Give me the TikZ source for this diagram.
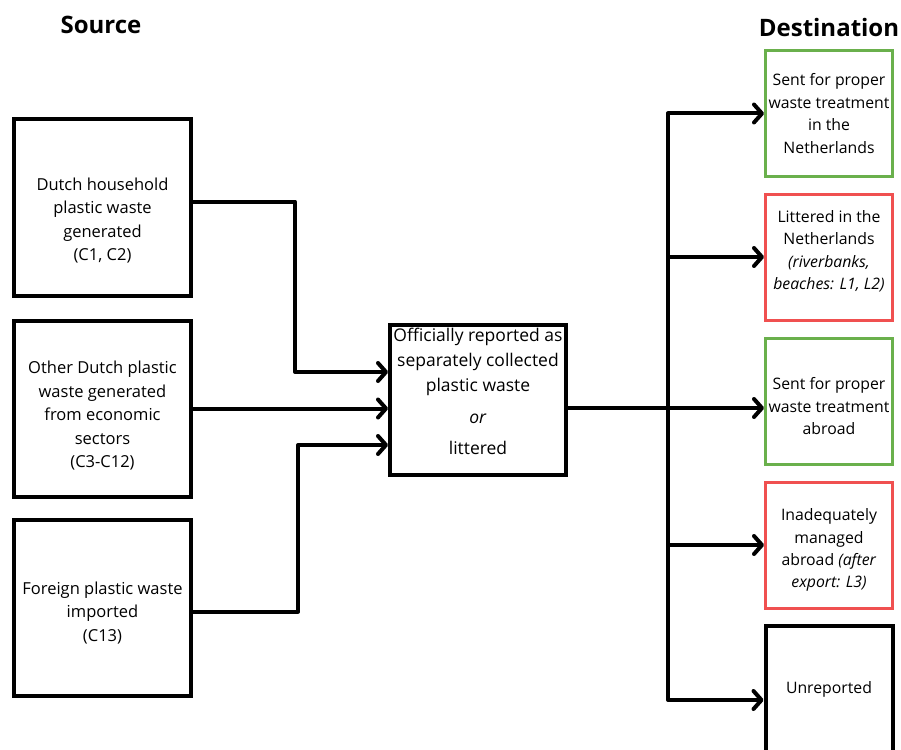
\documentclass[tikz,border=0pt]{standalone}
\usepackage{fontspec}
\setmainfont{Open Sans}
\usepackage{xcolor}
\usepackage{tikz}
\usetikzlibrary{arrows.meta}

\definecolor{okgreen}{HTML}{6AB04C}
\definecolor{badred}{HTML}{F05050}

\tikzset{
 box/.style={draw, line width=4pt, align=center, inner sep=0pt},
 srcbox/.style={box, minimum width=177pt, minimum height=176pt,
  font=\fontsize{16.5pt}{23.5pt}\selectfont},
 dstbox/.style={box, line width=3pt, minimum width=127pt, minimum height=126pt,
  font=\fontsize{15.8pt}{22.4pt}\selectfont},
 title/.style={font=\fontsize{24pt}{28pt}\selectfont\bfseries},
 flow/.style={line width=4pt, line join=round,
  -{Straight Barb[length=8pt,width=18pt,line cap=round,line join=round]}}
}

\begin{document}
\begin{tikzpicture}[x=1pt,y=-1pt]
 \clip (0,0) rectangle (901,749);
 \def\sx{102.5} \def\dx{829}

 %titles
 \node[title] (src) at (101,25) {Source};
 \node[title] (dst) at (829,28) {Destination};

 %sources
 \node[srcbox, minimum height=177pt] (A) at (\sx,207.5) {\\[15pt]Dutch household\\ plastic waste\\ generated\\ (C1, C2)};
 \node[srcbox] (B) at (\sx,408.5) {\\[4pt]Other Dutch plastic\\ waste generated\\ from economic\\ sectors\\ (C3-C12)};
 \node[srcbox] (C) at (\sx,607.5) {\\Foreign plastic waste\\ imported\\ (C13)};

 %middle
 \node[box, minimum width=176pt, minimum height=150pt, font=\fontsize{17.5pt}{25pt}\selectfont] (M) at (478,400)
  {Officially reported as\\ separately collected\\ plastic waste\\[7pt] \textit{or}\\[6pt] littered\\[-7pt]\mbox{}};

 %destinations
 \node[dstbox, draw=okgreen] (D1) at (\dx,113.5) {Sent for proper\\ waste treatment\\ in the\\ Netherlands};
 \node[dstbox, draw=badred] (D2) at (\dx,257) {Littered in the\\ Netherlands\\ \textit{(riverbanks,}\\ \textit{beaches: L1, L2)}\\[-8pt]\mbox{}};
 \node[dstbox, draw=okgreen] (D3) at (\dx,401) {\\Sent for proper\\ waste treatment\\ abroad};
 \node[dstbox, draw=badred] (D4) at (\dx,545) {\\Inadequately\\ managed\\ abroad \textit{(after}\\ \textit{export: L3)}};
 \node[dstbox, line width=4pt] (D5) at (\dx,689) {Unreported};

 %inflows
 \draw[flow] ([yshift=6pt]A.east) -- ++(102,0) |- ([yshift=28pt]M.west);
 \draw[flow] (B.east) -- (B.east -| M.west);
 \draw[flow] ([yshift=-4pt]C.east) -- ++(105,0) |- ([yshift=-45pt]M.west);

 %outflows
 \coordinate (trunk) at (668,0);
 \coordinate (low) at ([yshift=-11pt]D5.west);
 \draw[flow] ([yshift=-8pt]M.east) -- ([yshift=-8pt]M.east -| D3.west);
 \draw[flow] (trunk |- low) |- (D1.west);
 \draw[flow] (trunk |- D1.west) |- (low);
 \draw[flow] (trunk |- D2.west) -- (D2.west);
 \draw[flow] (trunk |- D4.west) -- (D4.west);

\end{tikzpicture}
\end{document}
